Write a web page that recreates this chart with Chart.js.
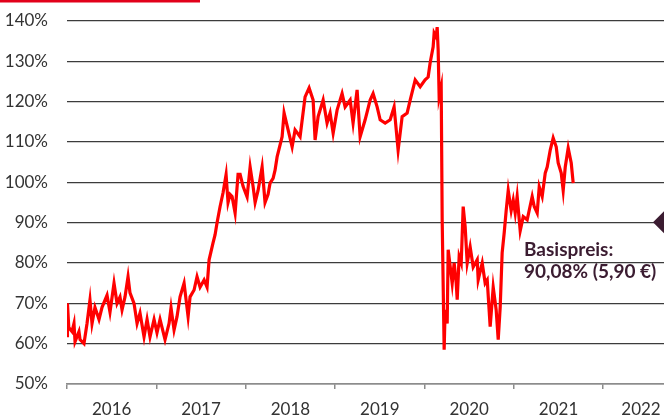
<!DOCTYPE html>
<html>
<head>
<meta charset="utf-8">
<script src="https://cdn.jsdelivr.net/npm/chart.js@4"></script>
<style>
  html, body { margin: 0; padding: 0; background: #fff; }
  #wrap { width: 664px; height: 418px; position: relative; }
</style>
</head>
<body>
<div id="wrap"><canvas id="chart"></canvas></div>
<script>
// time axis in decimal years, values in % of start
const dates = [
  2016.000, 2016.005, 2016.020, 2016.056, 2016.078, 2016.090, 2016.134, 2016.146, 2016.190, 2016.224,
  2016.257, 2016.280, 2016.313, 2016.358, 2016.392, 2016.448, 2016.481, 2016.526, 2016.560, 2016.593,
  2016.616, 2016.649, 2016.683, 2016.705, 2016.750, 2016.784, 2016.817, 2016.862, 2016.896, 2016.929,
  2016.974, 2017.007, 2017.041, 2017.097, 2017.142, 2017.164, 2017.198, 2017.231, 2017.265, 2017.310,
  2017.355, 2017.377, 2017.422, 2017.455, 2017.489, 2017.534, 2017.567, 2017.590, 2017.634, 2017.657,
  2017.679, 2017.713, 2017.746, 2017.780, 2017.802, 2017.825, 2017.847, 2017.881, 2017.914, 2017.937,
  2017.970, 2018.015, 2018.049, 2018.082, 2018.105, 2018.138, 2018.183, 2018.216, 2018.250, 2018.272,
  2018.306, 2018.328, 2018.351, 2018.407, 2018.429, 2018.474, 2018.519, 2018.552, 2018.608, 2018.664,
  2018.709, 2018.754, 2018.776, 2018.810, 2018.866, 2018.910, 2018.944, 2018.978, 2019.022, 2019.078,
  2019.112, 2019.168, 2019.201, 2019.246, 2019.280, 2019.336, 2019.392, 2019.425, 2019.470, 2019.504,
  2019.560, 2019.616, 2019.660, 2019.705, 2019.750, 2019.806, 2019.840, 2019.896, 2019.952, 2020.007,
  2020.041, 2020.063, 2020.097, 2020.108, 2020.131, 2020.142, 2020.153, 2020.164, 2020.187, 2020.198,
  2020.220, 2020.231, 2020.254, 2020.265, 2020.310, 2020.332, 2020.355, 2020.366, 2020.388, 2020.411,
  2020.433, 2020.455, 2020.478, 2020.511, 2020.545, 2020.590, 2020.601, 2020.646, 2020.679, 2020.702,
  2020.735, 2020.769, 2020.802, 2020.825, 2020.847, 2020.869, 2020.892, 2020.914, 2020.937, 2020.970,
  2020.993, 2021.015, 2021.037, 2021.071, 2021.105, 2021.149, 2021.205, 2021.228, 2021.261, 2021.284,
  2021.317, 2021.351, 2021.373, 2021.407, 2021.440, 2021.474, 2021.496, 2021.530, 2021.552, 2021.575,
  2021.608, 2021.642, 2021.664
];
const values = [
  62, 70, 64, 63, 65, 60.5, 63, 61, 60, 65,
  70.8, 65, 69, 66, 69, 72, 67.8, 75, 70, 71.6,
  68.4, 71.6, 76.6, 72.6, 70, 65, 67.6, 61.7, 66, 61.7,
  66, 62.7, 66, 61, 65, 68.9, 63.4, 66.7, 71.6, 75,
  66.7, 71.6, 73.3, 76.6, 74, 75.8, 74, 80.8, 85, 87,
  90, 94, 97.4, 101.9, 95, 97, 96.5, 92.4, 102, 102,
  99, 96.4, 103.8, 99, 95, 98, 103.8, 95, 97, 99.8,
  101, 103, 106.3, 111.3, 117.2, 113, 108.8, 113, 111.3, 121.2,
  123.4, 120.4, 110.5, 116.3, 120.4, 114.7, 117.2, 112.2, 117.9, 122,
  118.7, 120.4, 114.7, 122.9, 111.3, 115.5, 120.4, 122, 118.7, 115.5,
  114.7, 115.5, 118.7, 108, 116.3, 117.2, 120.4, 125.4, 123.7, 125.4,
  126.1, 129.6, 133.6, 137, 136, 138.5, 132.8, 121.2, 123.7, 90.7,
  58.5, 68.4, 65, 83.3, 75, 80, 75, 70.9, 81.6, 80,
  94, 89, 80, 84, 79, 80.8, 75.8, 80, 75, 75.8,
  64.2, 74, 68.4, 61, 69, 82.5, 87.5, 93, 98, 93,
  95.6, 92.4, 96.5, 88, 91.5, 90.7, 96.5, 94, 92.4, 98.9,
  96.5, 102.3, 103.8, 108, 111, 108.8, 104.8, 102.3, 98, 103.8,
  108.5, 104.8, 99.8
];
const yearTicks = [2016, 2017, 2018, 2019, 2020, 2021, 2022];
const xMin = 2016, xMax = 2022.68;
const basisPreis = 90.08;
const basisLabel = ['Basispreis:', '90,08% (5,90 €)'];

const linePoints = dates.map((d, i) => ({ x: d, y: values[i] }));

const extras = {
  id: 'extras',
  beforeDraw(chart) {
    const ctx = chart.ctx;
    ctx.save();
    ctx.fillStyle = '#e2001a';
    ctx.fillRect(0, 0, 200, 2.5);
    ctx.restore();
  },
  afterDraw(chart) {
    const ctx = chart.ctx;
    const area = chart.chartArea;
    const xs = chart.scales.x;
    const y = chart.scales.y.getPixelForValue(basisPreis);
    ctx.save();
    // year labels between the year ticks
    ctx.fillStyle = '#333';
    ctx.font = '17px Lato';
    ctx.textAlign = 'center';
    ctx.textBaseline = 'alphabetic';
    yearTicks.forEach(yr => {
      const px = Math.min(xs.getPixelForValue(yr + 0.5), area.right - 23);
      ctx.fillText(String(yr), px, 415);
    });
    // Basispreis annotation
    ctx.fillStyle = '#3b1c31';
    ctx.font = 'bold 19px Lato';
    ctx.textBaseline = 'middle';
    ctx.textAlign = 'left';
    ctx.fillText(basisLabel[0], area.right - 140, y + 28);
    ctx.fillText(basisLabel[1], area.right - 140, y + 50);
    ctx.restore();
  }
};

new Chart(document.getElementById('chart'), {
  type: 'line',
  data: {
    datasets: [{
      data: linePoints,
      borderColor: '#ff0000',
      borderWidth: 3.2,
      pointRadius: 0,
      tension: 0,
      order: 2
    }, {
      type: 'scatter',
      data: [{ x: xMax, y: basisPreis }],
      pointStyle: 'rectRot',
      pointRadius: 11,
      backgroundColor: '#3b1c31',
      borderWidth: 0,
      clip: false,
      order: 1
    }]
  },
  options: {
    responsive: true,
    maintainAspectRatio: false,
    animation: false,
    layout: { autoPadding: false, padding: { top: 21, right: 0, bottom: 0, left: 0 } },
    plugins: { legend: { display: false }, tooltip: { enabled: false } },
    scales: {
      x: {
        type: 'linear',
        min: xMin,
        max: xMax,
        afterBuildTicks: (scale) => { scale.ticks = yearTicks.map(v => ({ value: v })); },
        afterFit: (scale) => {
          scale.height = 34;
          scale.paddingLeft = 0;
          scale.paddingRight = 0;
        },
        border: { color: '#8c8c8c', width: 1.5 },
        grid: { drawOnChartArea: false, drawTicks: true, tickLength: 5, color: '#8c8c8c', lineWidth: 1.5 },
        ticks: {
          callback: () => '',
          maxRotation: 0,
          autoSkip: false
        }
      },
      y: {
        min: 50,
        max: 140,
        afterFit: (scale) => {
          scale.width = 67;
          scale.paddingTop = 0;
          scale.paddingBottom = 0;
        },
        border: { display: false },
        grid: { color: '#3c3c3c', lineWidth: 1.3, drawTicks: false },
        ticks: {
          stepSize: 10,
          padding: 19,
          color: '#333',
          font: { family: 'Lato', size: 17 },
          callback: (v) => v + '%'
        }
      }
    }
  },
  plugins: [extras]
});
</script>
</body>
</html>
